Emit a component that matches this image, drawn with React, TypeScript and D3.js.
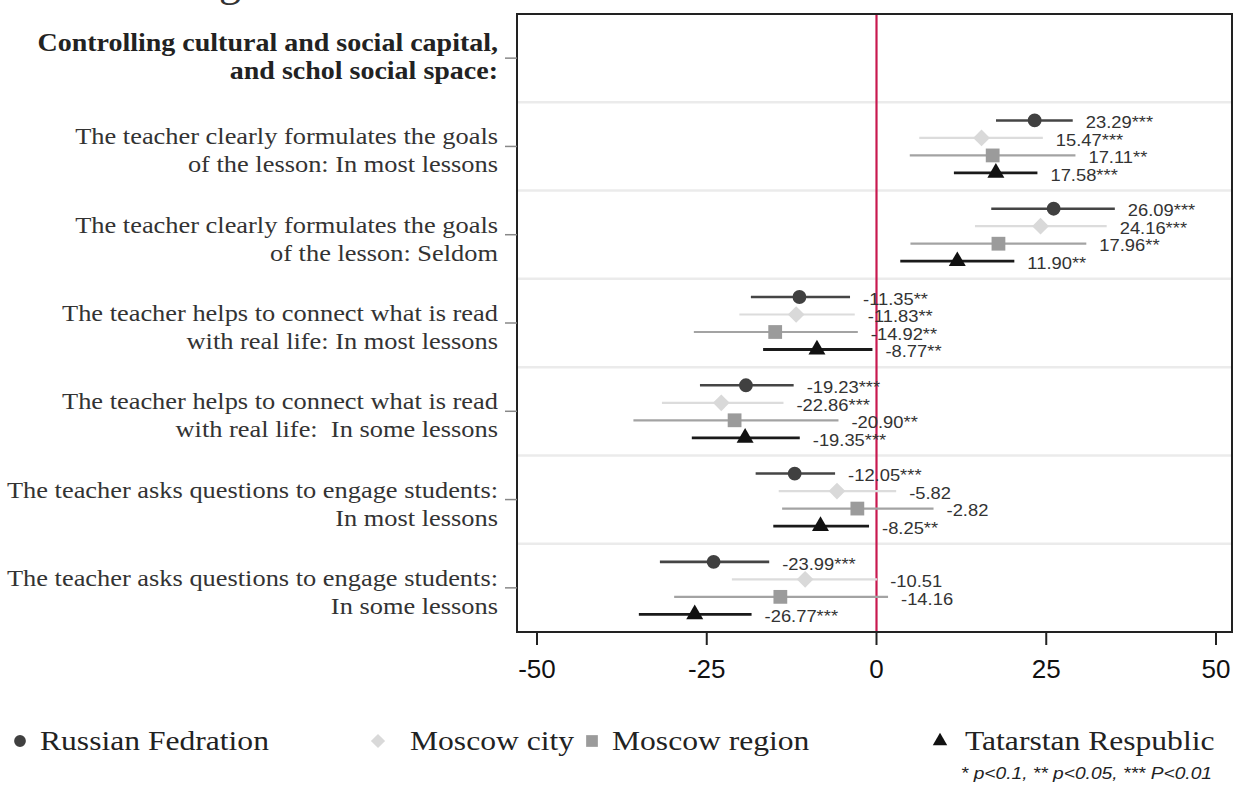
import React from "react";
import * as d3 from "d3";

// ---------- data ----------
const header = ["Controlling cultural and social capital,", "and schol social space:"];
const categories = [
  ["The teacher clearly formulates the goals", "of the lesson: In most lessons"],
  ["The teacher clearly formulates the goals", "of the lesson: Seldom"],
  ["The teacher helps to connect what is read", "with real life: In most lessons"],
  ["The teacher helps to connect what is read", "with real life:  In some lessons"],
  ["The teacher asks questions to engage students:", "In most lessons"],
  ["The teacher asks questions to engage students:", "In some lessons"],
];
const seriesNames = ["Russian Fedration", "Moscow city", "Moscow region", "Tatarstan Respublic"];

const estRF = [23.29, 26.09, -11.35, -19.23, -12.05, -23.99];
const estMC = [15.47, 24.16, -11.83, -22.86, -5.82, -10.51];
const estMR = [17.11, 17.96, -14.92, -20.9, -2.82, -14.16];
const estTR = [17.58, 11.9, -8.77, -19.35, -8.25, -26.77];

const starsRF = ["***", "***", "**", "***", "***", "***"];
const starsMC = ["***", "***", "**", "***", "", ""];
const starsMR = ["**", "**", "**", "**", "", ""];
const starsTR = ["***", "**", "**", "***", "**", "***"];

const loRF = [17.6, 16.9, -18.5, -26.0, -17.8, -31.9];
const hiRF = [28.9, 35.1, -3.9, -12.2, -6.1, -15.8];
const loMC = [6.3, 14.5, -20.2, -31.6, -14.4, -21.3];
const hiMC = [24.5, 33.9, -3.2, -13.7, 2.9, 0.1];
const loMR = [4.9, 5.0, -26.9, -35.8, -13.9, -29.8];
const hiMR = [29.3, 30.9, -2.75, -5.6, 8.4, 1.7];
const loTR = [11.4, 3.5, -16.7, -27.2, -15.2, -35.0];
const hiTR = [23.7, 20.3, -0.6, -11.3, -1.1, -18.4];

const xTicks = [-50, -25, 0, 25, 50];
const footnote = "* p<0.1, ** p<0.05, *** P<0.01";

// ---------- styles ----------
const markerFill = ["#404040", "#d9d9d9", "#9b9b9b", "#111111"];
const lineColor = ["#454545", "#dcdcdc", "#a3a3a3", "#1a1a1a"];
const lineWidth = [2.6, 2.2, 2.2, 2.8];
const symbols = [
  d3.symbol().type(d3.symbolCircle).size(150)(),
  d3.symbol().type(d3.symbolSquare).size(140)(),
  d3.symbol().type(d3.symbolSquare).size(190)(),
  d3.symbol().type(d3.symbolTriangle).size(125)(),
];
const symRotate = [0, 45, 0, 0];

const est = [estRF, estMC, estMR, estTR];
const stars = [starsRF, starsMC, starsMR, starsTR];
const lo = [loRF, loMC, loMR, loTR];
const hi = [hiRF, hiMC, hiMR, hiTR];

const W = 1234, H = 787;
const plotL = 517, plotR = 1232, plotT = 14, plotB = 632;

function SText({ x, y, sx, children, ...rest }: any) {
  return (
    <g transform={`translate(${x},${y}) scale(${sx},1)`}>
      <text x={0} y={0} {...rest}>{children}</text>
    </g>
  );
}

export default function App() {
  const x = d3.scaleLinear().domain([-50, 50]).range([537, 1216]);
  const rows = ["__header__", ...categories.map((_, i) => "c" + i)];
  const y = d3.scaleBand().domain(rows).range([plotT, plotB]).padding(0);
  const bw = y.bandwidth();
  const off = d3.scalePoint().domain(seriesNames).range([-26, 26.5]);
  const serif = "'Liberation Serif', 'Times New Roman', serif";
  const sans = "'Liberation Sans', Arial, sans-serif";

  const legendItems = [
    { mx: 20, tx: 40 },
    { mx: 378, tx: 410 },
    { mx: 592, tx: 612 },
    { mx: 940, tx: 965 },
  ];

  return (
    <div style={{ position: "absolute", left: 0, top: 0 }}>
      <svg width={W} height={H} style={{ display: "block", background: "#fff" }}>
        <rect x={0} y={0} width={W} height={H} fill="#fff" />
        {/* cropped title fragment */}
        <text x={230} y={-4} fontFamily={serif} fontSize={44} fill="#333" textAnchor="middle">g</text>

        {/* band separators */}
        {rows.slice(1).map((r) => (
          <line key={"sep" + r} x1={plotL} x2={plotR} y1={y(r)!} y2={y(r)!} stroke="#ebebeb" strokeWidth={2.5} />
        ))}

        {/* zero line */}
        <line x1={x(0)} x2={x(0)} y1={plotT} y2={plotB} stroke="#c8194f" strokeWidth={2.2} />

        {/* frame */}
        <rect x={plotL} y={plotT} width={plotR - plotL} height={plotB - plotT} fill="none" stroke="#222" strokeWidth={2} />

        {/* y ticks */}
        {rows.map((r) => (
          <line key={"yt" + r} x1={plotL - 12} x2={plotL} y1={y(r)! + bw / 2} y2={y(r)! + bw / 2} stroke="#888" strokeWidth={1.5} />
        ))}

        {/* header label */}
        {header.map((t, i) => (
          <SText key={"h" + i} x={498} y={y("__header__")! + bw / 2 - 7 + i * 28} sx={1.12} textAnchor="end" fontFamily={serif} fontWeight="bold" fontSize={25} fill="#222">{t}</SText>
        ))}

        {/* category labels */}
        {categories.map((lines, ci) => {
          const cy = y("c" + ci)! + bw / 2;
          return lines.map((t, li) => (
            <SText key={"cl" + ci + "_" + li} x={498} y={cy - 2 + li * 28} sx={1.1} textAnchor="end" fontFamily={serif} fontSize={24} fill="#333" style={{ whiteSpace: "pre" }}>{t}</SText>
          ));
        })}

        {/* CI lines, markers, value labels */}
        {seriesNames.map((s, si) =>
          categories.map((_, ci) => {
            const py = y("c" + ci)! + bw / 2 + off(s)!;
            return (
              <g key={"p" + si + "_" + ci}>
                <line x1={x(lo[si][ci])} x2={x(hi[si][ci])} y1={py} y2={py} stroke={lineColor[si]} strokeWidth={lineWidth[si]} />
                <path d={symbols[si]!} transform={`translate(${x(est[si][ci])},${py}) rotate(${symRotate[si]})`} fill={markerFill[si]} />
                <SText x={x(hi[si][ci]) + 13} y={py + 2} sx={1.08} dominantBaseline="central" fontFamily={sans} fontSize={17} fill="#333">
                  {est[si][ci].toFixed(2) + stars[si][ci]}
                </SText>
              </g>
            );
          })
        )}

        {/* x axis ticks */}
        {xTicks.map((t) => (
          <g key={"xt" + t}>
            <line x1={x(t)} x2={x(t)} y1={plotB} y2={plotB + 13} stroke="#222" strokeWidth={2} />
            <text x={x(t)} y={678} textAnchor="middle" fontFamily={sans} fontSize={26} fill="#111">{t}</text>
          </g>
        ))}

        {/* legend */}
        {seriesNames.map((s, si) => (
          <g key={"lg" + si}>
            <path d={symbols[si]!} transform={`translate(${legendItems[si].mx},${741}) rotate(${symRotate[si]}) scale(0.85)`} fill={markerFill[si]} />
            <SText x={legendItems[si].tx} y={750} sx={1.17} fontFamily={serif} fontSize={27} fill="#222">{s}</SText>
          </g>
        ))}

        {/* footnote */}
        <SText x={1212} y={779} sx={1.2} textAnchor="end" fontFamily={sans} fontStyle="italic" fontSize={16} fill="#222">{footnote}</SText>
      </svg>
    </div>
  );
}
